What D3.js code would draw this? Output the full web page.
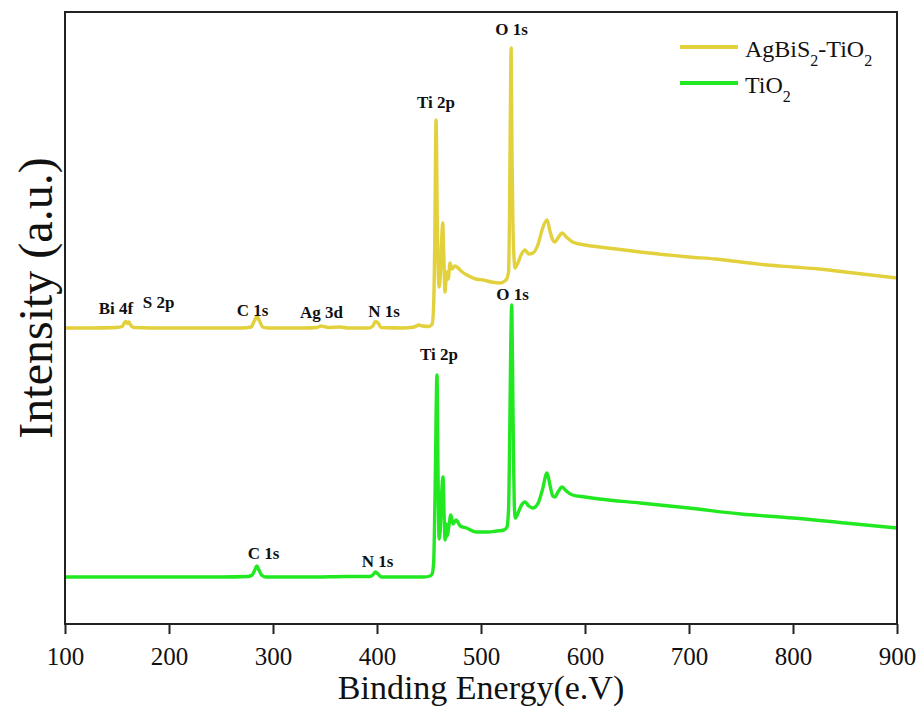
<!DOCTYPE html>
<html>
<head>
<meta charset="utf-8">
<script src="https://cdn.jsdelivr.net/npm/d3@7"></script>
<style>
  html, body { margin: 0; padding: 0; background: #fff; }
  svg { display: block; }
  svg text { font-family: "Liberation Serif", "Times New Roman", Times, serif !important; fill: #111; }
</style>
</head>
<body>
<svg id="chart" width="920" height="706"></svg>
<script>
// XPS survey spectra: binding energy (eV) and intensity (arbitrary units)
const agbisEnergy = [100,125,150,155,157,158.5,160,161.5,163,166,200,240,270,279,282,284.5,287,290,295,330,342,346,349,353,365,372,392,396,398.5,401,404,425,436,440,444,450,453,454.5,455.5,456.8,458,459.6,461,462.2,463.2,464.2,465.4,467,468.5,470.2,472,475,478,482,486.5,495,502,510,518,524,526.5,527.5,528.3,529,529.8,530.8,531.8,532.8,535,539,542.3,546,550,555,559,563.5,566.5,569,571,574,578,582,588,600,614,630,653,680,700,725,750,775,800,825,850,875,900];
const agbisIntensity = [296,296,296.5,297.5,301,302.5,300.5,302,299,296.5,296,296,296,297,303,307.5,303,297,296,296,296.5,298,297.5,296.5,297,296,296,298,302.5,301,296.5,296,297,299,298,297.5,300,320,380,504,400,337,350,385,401,370,332,352,345,361,355,358,356,352,349,345,344,342,341,344,352,420,520,576,470,395,365,356,360,370,374,370,371,380,395,404,392,384,382,386,391,387,382,379,377,375,372,369,367,365,362,359,357,355,352,349,346];

const tio2Energy = [100,150,200,250,276,280,282.5,284.5,286.5,289,293,340,370,393,396,398.5,401,404,430,445,451,453,454.5,455.8,457.7,458.7,459.7,460.7,461.8,463.5,464.5,465.5,466.5,467.5,469,471,473,476,480,486,495,507,515,522,525,526.5,527.5,528.5,529.5,530.3,531.2,532,533,536,539,542.3,546,550,555,559,563.5,566.5,569,571,574,578,582,588,600,614,653,700,750,800,850,900];
const tio2Intensity = [47,47,47,47,47.5,49,54,58,54,49,47,47,47.5,47.5,49,52,50,47,47,47,48,50,62,130,249,150,85,92,122,147,110,84,100,88,97,109,100,104,98,96,92,92,93,94,97,115,180,270,319,260,170,120,106,112,119,122,118,116,121,134,151,138,128,127,132,137,133,129,127,125,121,116,110,106,101,96];

// Peak assignments: label text, label energy (eV), label intensity level
const agbisPeakNames = ["Bi 4f","S 2p","C 1s","Ag 3d","N 1s","Ti 2p","O 1s"];
const agbisPeakEnergy = [149,190,280.3,346.6,406.7,456.7,529.3];
const agbisPeakLevel = [310,316,308,306,307,516,589];

const tio2PeakNames = ["C 1s","N 1s","Ti 2p","O 1s"];
const tio2PeakEnergy = [290.9,400.5,459.6,530.3];
const tio2PeakLevel = [65,57,264,324];

const xTicks = [100,200,300,400,500,600,700,800,900];

const seriesNames = ["AgBiS2-TiO2","TiO2"];
const seriesColors = ["#e2d13c","#22e822"];

const margin = {left: 65, right: 23, top: 12, bottom: 82};
const W = 920, H = 706;
const svg = d3.select("#chart");

const x = d3.scaleLinear().domain([100, 900]).range([margin.left, W - margin.right]);
const y = d3.scaleLinear().domain([0, 612]).range([H - margin.bottom, margin.top]);

const line = d3.line()
  .x(d => x(d[0]))
  .y(d => y(d[1]))
  .curve(d3.curveMonotoneX);

const agbis = d3.zip(agbisEnergy, agbisIntensity);
const tio2 = d3.zip(tio2Energy, tio2Intensity);

// Spectra
svg.append("path").datum(tio2)
  .attr("d", line).attr("fill", "none")
  .attr("stroke", seriesColors[1]).attr("stroke-width", 3.4)
  .attr("stroke-linejoin", "round");
svg.append("path").datum(agbis)
  .attr("d", line).attr("fill", "none")
  .attr("stroke", seriesColors[0]).attr("stroke-width", 3.4)
  .attr("stroke-linejoin", "round");

// Peak labels
function peakLabels(names, energies, levels) {
  svg.append("g").selectAll("text")
    .data(names)
    .join("text")
    .attr("x", (d, i) => x(energies[i]))
    .attr("y", (d, i) => y(levels[i]))
    .attr("text-anchor", "middle")
    .style("font-weight", "bold")
    .style("font-size", "17px")
    .text(d => d);
}
peakLabels(agbisPeakNames, agbisPeakEnergy, agbisPeakLevel);
peakLabels(tio2PeakNames, tio2PeakEnergy, tio2PeakLevel);

// Frame
svg.append("rect")
  .attr("x", margin.left).attr("y", margin.top)
  .attr("width", W - margin.left - margin.right)
  .attr("height", H - margin.top - margin.bottom)
  .attr("fill", "none").attr("stroke", "#222").attr("stroke-width", 2);

// Bottom axis
const xAxis = svg.append("g")
  .attr("transform", `translate(0,${H - margin.bottom})`)
  .call(d3.axisBottom(x).tickValues(xTicks).tickSize(10).tickPadding(13).tickFormat(d3.format("d")));
xAxis.select(".domain").remove();
xAxis.selectAll(".tick line").attr("stroke", "#222").attr("stroke-width", 2);
xAxis.selectAll(".tick text")
  .style("font-size", "25px");

// Axis titles
svg.append("text")
  .attr("x", (margin.left + W - margin.right) / 2)
  .attr("y", 699)
  .attr("text-anchor", "middle")
  .style("font-size", "34px")
  .text("Binding Energy(e.V)");

svg.append("text")
  .attr("transform", `translate(52,298) rotate(-90)`)
  .attr("text-anchor", "middle")
  .style("font-size", "48px")
  .text("Intensity (a.u.)");

// Legend
const legend = svg.append("g");
const legendRows = [47, 83];
seriesNames.forEach((name, i) => {
  legend.append("line")
    .attr("x1", 680).attr("x2", 738)
    .attr("y1", legendRows[i]).attr("y2", legendRows[i])
    .attr("stroke", seriesColors[i]).attr("stroke-width", 4);
  const t = legend.append("text")
    .attr("x", 745).attr("y", legendRows[i] + 10)
    .style("font-size", "24px");
  // chemical formula with subscripts
  name.split(/(\d)/).forEach(part => {
    if (/^\d$/.test(part)) {
      t.append("tspan").attr("baseline-shift", "sub").style("font-size", "16px").text(part);
    } else if (part) {
      t.append("tspan").text(part);
    }
  });
});
</script>
</body>
</html>
